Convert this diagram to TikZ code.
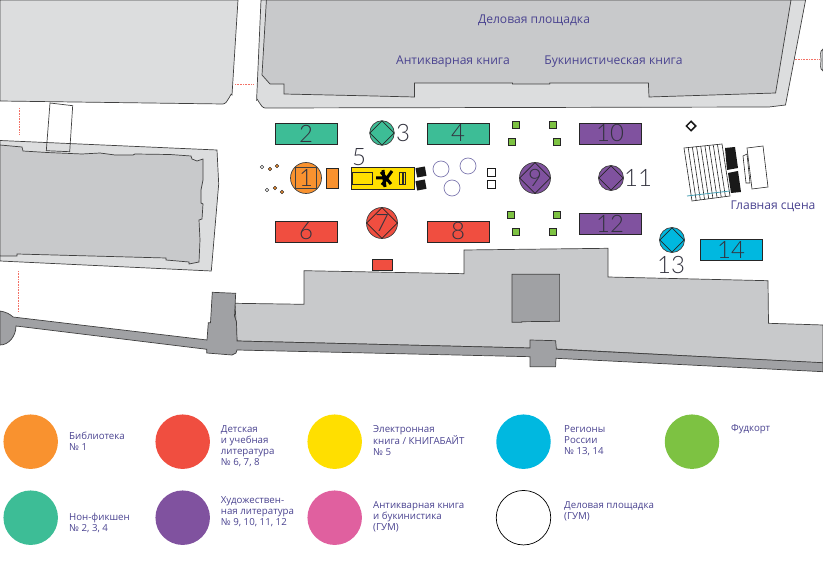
\documentclass[tikz,border=0pt]{standalone}
\usepackage{fontspec}
\setmainfont{Open Sans}
\newfontfamily\numfont{Lato Light}
\usetikzlibrary{shapes.geometric,calc}
\definecolor{bldlight}{HTML}{DCDDDE}
\definecolor{bldmid}{HTML}{C8C9CB}
\definecolor{blddark}{HTML}{A0A1A4}
\definecolor{inkblue}{HTML}{4A4390}
\definecolor{numink}{HTML}{33333F}
\definecolor{cOrange}{HTML}{F9922F}
\definecolor{cRed}{HTML}{F04E40}
\definecolor{cYellow}{HTML}{FFDF00}
\definecolor{cTeal}{HTML}{3DBD96}
\definecolor{cPurple}{HTML}{80529F}
\definecolor{cPink}{HTML}{E0609F}
\definecolor{cBlue}{HTML}{00B8E0}
\definecolor{cGreen}{HTML}{7DC242}
\tikzset{
  wallline/.style={draw=black!75,line width=0.7},
  stallbox/.style={draw=black!85,line width=0.8,minimum width=62,minimum height=21,inner sep=0,text=numink,font=\numfont\fontsize{24}{24}\selectfont},
  roundstall/.style={circle,draw=black!75,line width=0.7,inner sep=0},
  numlabel/.style={text=numink,inner sep=0,font=\numfont\fontsize{24}{24}\selectfont},
  diamondmark/.style={diamond,draw=black!85,line width=0.7,inner sep=0,aspect=1,text=numink,font=\numfont\fontsize{24}{24}\selectfont},
  foodbox/.style={draw=black!85,line width=0.7,fill=cGreen,minimum size=7.5,inner sep=0},
  seatdot/.style={circle,draw=black!80,line width=0.5,minimum size=3.6,inner sep=0},
  tablering/.style={circle,draw=inkblue!70,line width=0.7,fill=white,minimum size=16,inner sep=0},
  legendspot/.style={circle,minimum size=54.5,inner sep=0},
  legendtext/.style={anchor=west,align=left,inner sep=0,text=inkblue,font=\fontsize{9.7}{11}\selectfont},
  maptext/.style={inner sep=0,text=inkblue,font=\fontsize{12.1}{12}\selectfont},
  exitline/.style={draw=cRed!80,line width=0.8,dash pattern=on 1 off 0.6},
}
\begin{document}
\begin{tikzpicture}[x=1pt,y=-1pt]
\useasboundingbox (0,0) rectangle (823,561);
% buildings
\path[fill=bldlight,wallline] (238,0) -- (232,95) to[out=95,in=0] (223,104) -- (0,101) -- (0,0) -- cycle;
\path[fill=bldlight,wallline] (261,0) -- (256.6,100) to[out=90,in=180] (265,108) -- (769,107) -- (785.5,105) -- (805.6,0) -- cycle;
\path[fill=bldmid,wallline] (266.4,0) -- (262,75) -- (270,84) -- (284,84) -- (284,94) -- (374,96) -- (414.5,97) -- (414.5,83) -- (512.4,83) -- (512.4,84) -- (549.7,84) -- (549.7,83) -- (648.4,83) -- (649,97) -- (775.6,93) -- (791,0) -- cycle;
\path[fill=bldlight,wallline] (0,140.5) -- (217,150) -- (218.7,184) -- (211.3,271) -- (0,261) -- cycle;
\path[fill=bldmid,wallline] (0,145) -- (22,147) -- (23,151) -- (47,152.5) -- (82,154) -- (100,153) -- (115,155) -- (133,155) -- (135,154) -- (170,154.5) -- (191,156) -- (192,159) -- (197,161) -- (203,159) -- (203,180) -- (201,190) -- (201,203) -- (203,204) -- (202,219) -- (199,220) -- (200,240) -- (199,262) -- (189,264) -- (189,262) -- (166,260) -- (166,258) -- (17,254) -- (17,256) -- (0,256) -- cycle;
\path[wallline] (50,103) -- (72.7,105.7) -- (69.7,151.7) -- (46.3,150.7) -- cycle;
\path[fill=bldmid,wallline] (235,303.3) -- (304,304.3) -- (304,270.7) -- (464,273.7) -- (464,250) -- (608,248.3) -- (608,277) -- (768,280.7) -- (768.5,323.3) -- (823,325) -- (823,363) -- (556,349) -- (530,348) -- (237,341) -- cycle;
\path[fill=blddark,wallline] (512,274.3) -- (559.6,274.3) -- (559.6,321.3) -- (521.8,321.7) -- (521.8,322.3) -- (512,322.3) -- cycle;
% outer wall
\path[fill=blddark,wallline] (0,311) .. controls (6,312) and (10,314) .. (13,317) -- (207,340) -- (208.3,322.7) -- (210.5,322.7) -- (212.3,292.3) -- (235.7,293.3) -- (234.5,316) -- (236.5,322) -- (237,341) -- (530,348) -- (530,340) -- (555.6,340.7) -- (556.4,349.3) -- (823,362.7) -- (823,371.7) -- (556,358.3) -- (555.6,366.7) -- (530,366.7) -- (530,356.7) -- (237,350) -- (236,353) -- (232,355) -- (206.7,353) -- (206.7,349.3) -- (16,326) .. controls (16,336) and (9,345) .. (0,345) -- cycle;
\path[fill=bldlight,wallline] (823,49) to[out=210,in=90] (821,60) to[out=-90,in=150] (823,71) -- cycle;
% exits
\draw[exitline] (235,84) -- (254,84);
\draw[exitline] (794.6,59) -- (820,59);
\draw[exitline] (19,108) -- (19,135);
\draw[exitline] (18,271) -- (18,312);
% stalls
\node[stallbox,fill=cTeal] (st2) at (306,133.5) {2};
\node[stallbox,fill=cTeal] (st4) at (458,133.5) {4};
\node[stallbox,fill=cPurple] (st10) at (610,133.5) {10};
\node[stallbox,fill=cRed] (st6) at (306,231.5) {6};
\node[stallbox,fill=cRed] (st8) at (458,231.5) {8};
\node[stallbox,fill=cPurple] (st12) at (610,223.5) {12};
\node[stallbox,fill=cBlue] (st14) at (731,250) {14};
\node[draw=black!85,line width=0.8,fill=cRed,minimum width=20,minimum height=11,inner sep=0] (st7b) at (382,264.5) {};
% round stalls
\node[roundstall,fill=cTeal,minimum size=24.5] (rd3) at (382,133) {};
\node[diamondmark,minimum size=24.5] (dm3) at (382,133) {};
\node[numlabel] (lb3) at (403,133) {3};
\node[roundstall,fill=cOrange,minimum size=31] (rd1) at (306,178) {};
\node[draw=black!75,line width=0.7,minimum size=21,inner sep=0,text=numink,font=\numfont\fontsize{24}{24}\selectfont] (sq1) at (306,178) {1};
\node[draw=black!85,line width=0.7,fill=cOrange,minimum width=12,minimum height=20,inner sep=0] (st1b) at (332,178) {};
\node[roundstall,fill=cRed,minimum size=31] (rd7) at (382,223) {};
\node[diamondmark,minimum size=30.5] (dm7) at (382,223) {7};
\node[roundstall,fill=cPurple,minimum size=31] (rd9) at (535,178) {};
\node[diamondmark,minimum size=30.5] (dm9) at (535,178) {9};
\node[roundstall,fill=cPurple,minimum size=25] (rd11) at (611,178) {};
\node[diamondmark,minimum size=24.5] (dm11) at (611,178) {};
\node[numlabel] (lb11) at (638,178) {11};
\node[roundstall,fill=cBlue,minimum size=25] (rd13) at (672,240) {};
\node[diamondmark,minimum size=24.5] (dm13) at (672,240) {};
\node[numlabel] (lb13) at (671,265) {13};
% stall 5
\node[stallbox,fill=cYellow,minimum width=63,minimum height=22] (st5) at (382.5,178) {};
\node[numlabel] (lb5) at (359,157) {5};
\draw[black!85,line width=0.7] (352,172.5) rectangle (372,184.5);
\draw[black!85,line width=0.7] (399.5,172.5) rectangle (402,184.5) (403,172.5) rectangle (405.5,184.5);
\draw[black,line width=3] (376,178) -- (388,178) (381,172) -- (391,184) (392,171) -- (382,185) (383,170) -- (385,187);
% small furniture
\node[fill=black!90,minimum size=9.5,inner sep=0,rotate=10] (bk1) at (421,172) {};
\node[fill=black!90,minimum size=9.5,inner sep=0,rotate=10] (bk2) at (421,185) {};
\node[tablering] (tb1) at (441,169) {};
\node[tablering] (tb2) at (468,166) {};
\node[tablering] (tb3) at (452,188) {};
\node[draw=black!90,line width=0.7,minimum size=8,inner sep=0] (wb1) at (491,172.5) {};
\node[draw=black!90,line width=0.7,minimum size=8,inner sep=0] (wb2) at (491,184) {};
\node[seatdot,fill=white] (sd1) at (262,167) {};
\node[seatdot,fill=cOrange] (sd2) at (270,169) {};
\node[seatdot,fill=cOrange] (sd3) at (277,166) {};
\node[seatdot,fill=white] (sd4) at (267,190) {};
\node[seatdot,fill=cOrange] (sd5) at (275,188) {};
\node[seatdot,fill=cOrange] (sd6) at (282,192) {};
% food court
\node[foodbox] (fd1) at (516,125) {};
\node[foodbox] (fd2) at (512,142) {};
\node[foodbox] (fd3) at (553,125) {};
\node[foodbox] (fd4) at (557,142) {};
\node[foodbox] (fd5) at (511,215) {};
\node[foodbox] (fd6) at (516,232) {};
\node[foodbox] (fd7) at (557,215) {};
\node[foodbox] (fd8) at (553,232) {};
% main stage
\node[diamond,draw=black!90,line width=1.5,minimum size=10,inner sep=0] (sgd) at (691,126) {};
\coordinate (sa) at (684,148);
\coordinate (sb) at (722,144);
\coordinate (sc) at (730,196);
\coordinate (sd) at (692,201);
\draw[black!85,line width=0.6,fill=white] (sa) -- (sb) -- (sc) -- (sd) -- cycle;
\foreach \t in {0.11,0.22,0.33,0.44,0.55,0.66,0.77,0.88}
  \draw[black!85,line width=0.6] ($(sa)!\t!(sb)$) -- ($(sd)!\t!(sc)$);
\draw[fill=black!90,draw=none] (725,148) -- (735,147) -- (738,168) -- (727,170) -- cycle;
\draw[fill=black!90,draw=none] (728,173) -- (738,171) -- (741,192) -- (731,193) -- cycle;
\draw[black!85,line width=0.6,fill=white] (743,156) -- (747,154) -- (750,183) -- (746,183) -- cycle;
\draw[black!85,line width=0.6,fill=white] (747,148) -- (763,146) -- (768,187) -- (752,189) -- cycle;
\draw[cBlue!50!gray,line width=0.8] (687,196) -- (730,191);
% map labels
\node[maptext] (tdel) at (534,20) {Деловая площадка};
\node[maptext] (tant) at (453,62) {Антикварная книга};
\node[maptext] (tbuk) at (613.5,62) {Букинистическая книга};
\node[maptext] (tmain) at (773,206) {Главная сцена};
% legend
\node[legendspot,fill=cOrange] (lg1) at (30.7,441.7) {};
\node[legendspot,fill=cRed] (lg2) at (182.7,441.7) {};
\node[legendspot,fill=cYellow] (lg3) at (334.7,441.7) {};
\node[legendspot,fill=cBlue] (lg4) at (523.5,441.7) {};
\node[legendspot,fill=cGreen] (lg5) at (692,441.7) {};
\node[legendspot,fill=cTeal] (lg6) at (30.7,517.7) {};
\node[legendspot,fill=cPurple] (lg7) at (182.7,517.7) {};
\node[legendspot,fill=cPink] (lg8) at (334.7,517.7) {};
\node[legendspot,draw=black,line width=0.7] (lg9) at (523.5,517.7) {};
\node[legendtext] (tx1) at (69,441) {Библиотека\\№ 1};
\node[legendtext] (tx2) at (220.7,446) {Детская\\и учебная\\литература\\№ 6, 7, 8};
\node[legendtext] (tx3) at (373,440.5) {Электронная\\книга / КНИГАБАЙТ\\№ 5};
\node[legendtext] (tx4) at (564,441) {Регионы\\России\\№ 13, 14};
\node[legendtext] (tx5) at (731,429.5) {Фудкорт};
\node[legendtext] (tx6) at (69,522.5) {Нон-фикшен\\№ 2, 3, 4};
\node[legendtext] (tx7) at (220.7,511.5) {Художествен-\\ная литература\\№ 9, 10, 11, 12};
\node[legendtext] (tx8) at (373,517) {Антикварная книга\\и букинистика\\(ГУМ)};
\node[legendtext] (tx9) at (564,511.5) {Деловая площадка\\(ГУМ)};
\end{tikzpicture}
\end{document}
